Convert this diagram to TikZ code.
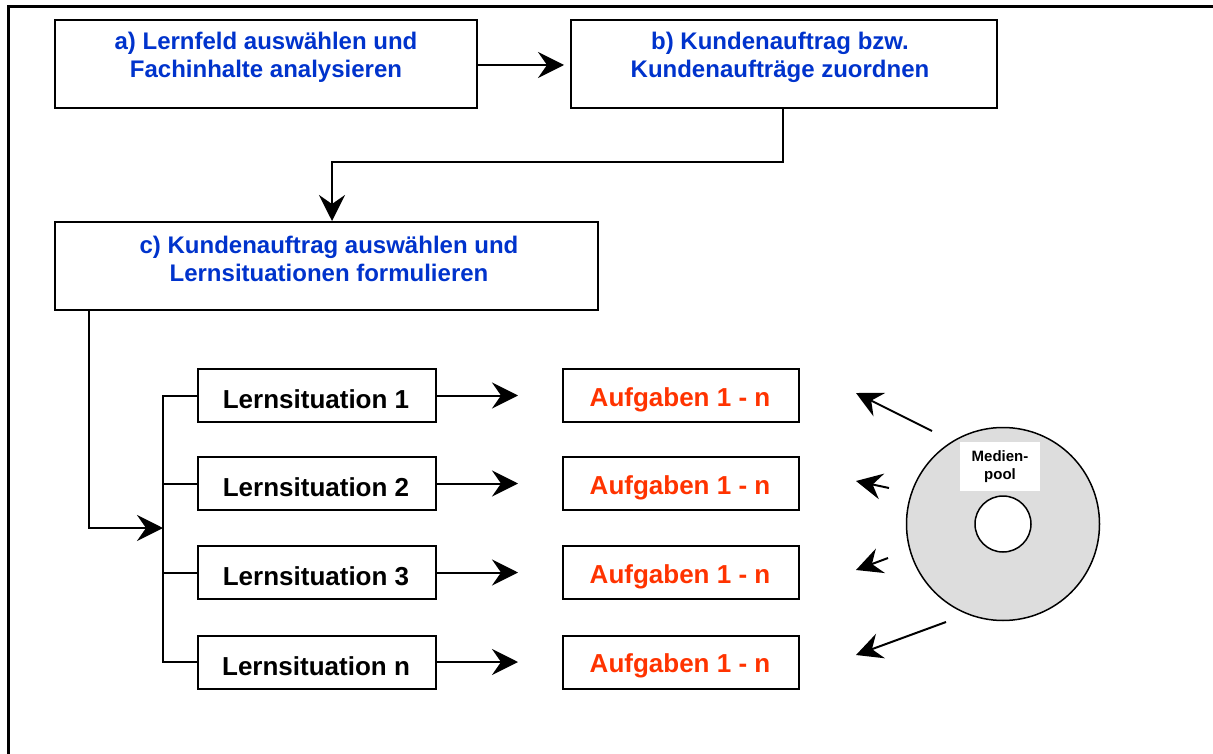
\documentclass[tikz,border=0pt]{standalone}
\usepackage{fontspec}
\setmainfont{Liberation Sans}
\usetikzlibrary{arrows.meta}
\definecolor{stepblue}{RGB}{0,51,204}
\definecolor{taskred}{RGB}{255,51,0}
\definecolor{discgray}{RGB}{221,221,221}
\tikzset{
  bigbox/.style={draw, line width=2pt, rectangle, minimum width=#1, minimum height=88pt, inner sep=0pt},
  smallbox/.style={draw, line width=2pt, rectangle, minimum width=#1, minimum height=53pt, inner sep=0pt},
  bluetext/.style={text=stepblue, font=\fontsize{24}{28}\selectfont\bfseries, align=center, inner sep=0pt},
  lstext/.style={font=\fontsize{26}{30}\selectfont\bfseries, inner sep=0pt},
  autext/.style={text=taskred, font=\fontsize{26}{30}\selectfont\bfseries, inner sep=0pt},
  conn/.style={line width=2pt},
  arr/.style={line width=2pt, -{Stealth[length=26pt, width=26pt, inset=9pt]}}
}
\begin{document}
\begin{tikzpicture}[x=1pt,y=-1pt]
\useasboundingbox (0,0) rectangle (1213,754);
% frame
\draw[line width=3pt] (8,754) -- (8,7) -- (1213,7);
% top boxes
\node[bigbox=422pt] (a) at (266,64) {};
\node[bluetext] (ta) at (266,57) {a) Lernfeld auswählen und\\Fachinhalte analysieren};
\node[bigbox=426pt] (b) at (784,64) {};
\node[bluetext] (tb) at (780,57) {b) Kundenauftrag bzw.\\Kundenaufträge zuordnen};
\node[bigbox=543pt] (c) at (326.5,266) {};
\node[bluetext] (tc) at (329,259) {c) Kundenauftrag auswählen und\\Lernsituationen formulieren};
% connectors top
\draw[arr, shorten >=6pt] (a.east |- 0,65) -- (b.west |- 0,65);
\coordinate (bend) at (332,162);
\draw[arr] (b.south -| 783,0) |- (bend) -- (bend |- c.north);
% learning situations
\foreach \i/\y/\t in {1/395.5/1, 2/483.5/2, 3/572.5/3, n/662/n}{
  \node[smallbox=238pt] (ls\i) at (317,\y) {};
  \node[lstext] (tls\i) at (316,\y+4) {Lernsituation \t};
  \node[smallbox=236pt] (au\i) at (681,\y) {};
  \node[autext] (tau\i) at (680,\y+4) {Aufgaben 1 - n};
  \draw[arr, shorten >=44pt] (ls\i.east) -- (au\i.west);
}
% bus
\coordinate (busx) at (163,0);
\draw[conn] (ls1.west) -- (ls1.west -| busx) -- (lsn.west -| busx) -- (lsn.west);
\draw[conn] (ls2.west) -- (ls2.west -| busx);
\draw[conn] (ls3.west) -- (ls3.west -| busx);
\coordinate (cout) at (89,310);
\coordinate (busin) at (163,528);
\draw[arr] (cout) |- (busin);
% media pool disc
\node[circle, draw, line width=1.5pt, fill=discgray, minimum size=193pt, inner sep=0pt] (disc) at (1003,524) {};
\node[circle, draw, line width=1.5pt, fill=white, minimum size=56pt, inner sep=0pt] (hole) at (1003,524) {};
\node[fill=white, minimum width=80pt, minimum height=49pt, inner sep=0pt, align=center, font=\fontsize{15}{18}\selectfont\bfseries] (mp) at (1000,466.5) {Medien-\\pool};
\coordinate (s1) at (932,431); \coordinate (e1) at (856,393);
\coordinate (s2) at (889,488); \coordinate (e2) at (856,481);
\coordinate (s3) at (888,558); \coordinate (e3) at (856,570);
\coordinate (s4) at (946,622); \coordinate (e4) at (856,655);
\draw[arr] (s1) -- (e1);
\draw[arr] (s2) -- (e2);
\draw[arr] (s3) -- (e3);
\draw[arr] (s4) -- (e4);
\end{tikzpicture}
\end{document}
